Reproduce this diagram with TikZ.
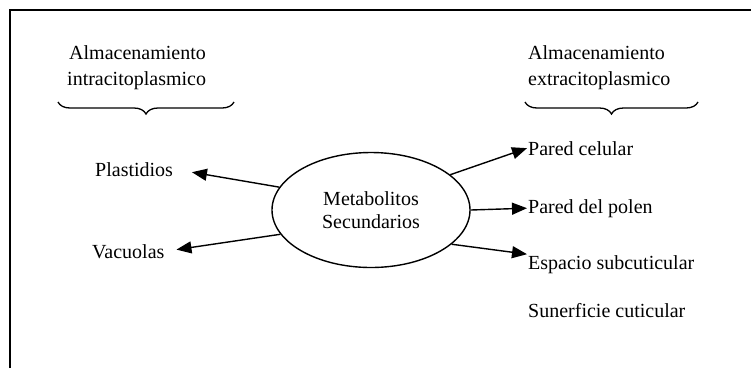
\documentclass[tikz,border=0pt]{standalone}
\usepackage{fontspec}
\setmainfont{Liberation Serif}
\usetikzlibrary{
  arrows.meta,
  decorations.pathreplacing,
  shapes
}

\begin{document}
\begin{tikzpicture}[x=1pt,y=-1pt,
    lbl/.style={anchor=base west,inner sep=1pt,font=\fontsize{20}{25}\selectfont},
    arr/.style={-{Triangle[length=15pt,width=12pt]},line width=1.4pt},
    brc/.style={decorate,decoration={brace,mirror,amplitude=12pt},line width=1.3pt}]
  \useasboundingbox (0,0) rectangle (751,368);
  \draw[line width=1.3pt] (10,368) -- (10,10) -- (751,10);

  % storage groups
  \node[lbl] (IA) at (68,59) {Almacenamiento};
  \node[lbl] (IB) at (66,85) {intracitoplasmico};
  \node[lbl] (EA) at (527,59) {Almacenamiento};
  \node[lbl] (EB) at (527,85) {extracitoplasmico};
  \coordinate (I1) at (58,102);
  \coordinate (I2) at (234,102);
  \coordinate (E1) at (525,102);
  \coordinate (E2) at (698,102);
  \draw[brc] (I1) -- (I2);
  \draw[brc] (E1) -- (E2);

  \node[ellipse,draw,line width=1.4pt,minimum width=198pt,minimum height=115pt,inner sep=0pt,
        align=center,font=\fontsize{20}{23}\selectfont] (M) at (371,210) {Metabolitos\\Secundarios};

  \node[lbl] (P) at (94,176) {Plastidios};
  \node[lbl] (V) at (91,258) {Vacuolas};
  \node[lbl] (PC) at (527,155) {Pared celular};
  \node[lbl] (PP) at (527,213) {Pared del polen};
  \node[lbl] (ES) at (527,269) {Espacio subcuticular};
  \node[lbl] (SC) at (527,317) {Sunerficie cuticular};

  \draw[arr,shorten >=18pt] (M.166) -- (P.east);
  \draw[arr,shorten >=11pt] (M.195) -- (V.east);
  \draw[arr] (M.24) -- (PC.west);
  \draw[arr] (M.0) -- (PP.west);
  \draw[arr] (M.337) -- ([yshift=10pt]ES.west);
\end{tikzpicture}
\end{document}
